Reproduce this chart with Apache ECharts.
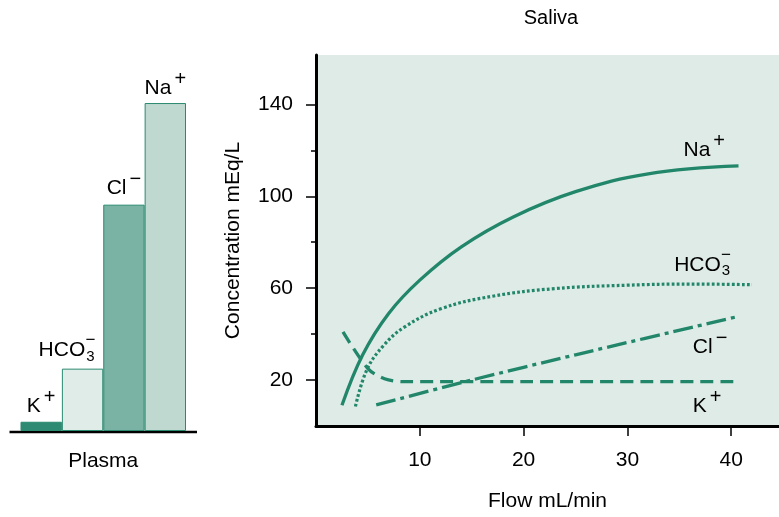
<!DOCTYPE html>
<html>
<head>
<meta charset="utf-8">
<title>Saliva</title>
<script src="https://cdn.jsdelivr.net/npm/echarts@6/dist/echarts.min.js"></script>
<style>
html, body {margin: 0; padding: 0; background: #ffffff;}
#chartBox {width: 779px; height: 517px;}
</style>
</head>
<body>
<div id="chartBox"></div>
<script>
// plasma bars (mEq/L)
let plasmaIons = ['K', 'HCO3', 'Cl', 'Na'];
let plasmaValues = [4, 27, 98, 142];

// saliva curves, [flow mL/min, concentration mEq/L]
let naCurve = [[2.5, 9], [4.5, 31], [7, 49], [10, 63.5], [14, 78], [19, 91], [25, 102],
    [32, 109.8], [40.7, 113.2]];
let hco3Curve = [[3.8, 8.5], [4.9, 24.5], [6.5, 35], [8.5, 43], [12, 51], [17, 56.5], [23, 59.8],
    [30, 61.3], [36, 61.8], [42, 61.5]];
let clCurve = [[5.8, 9.2], [15, 20], [25, 31], [40.5, 47.5]];
let kCurve = [[2.6, 41], [5.0, 25], [6.6, 20.6], [8.5, 19.3], [20, 19.3], [40.7, 19.3]];

// tick labels
let yMajorTicks = [20, 60, 100, 140];
let yMinorTicks = [40, 80, 120];
let xTicks = [10, 20, 30, 40];

const FONT = '"Liberation Sans", Arial, Helvetica, sans-serif';
const TEAL = '#22876a';
const INK = '#000000';
const Y_MAX = 161.5;

let plasmaColors = ['#2f8a73', '#e0ece7', '#7ab2a4', '#bfd9d1'];
// label text pieces, plus a small nudge for each bar label
let plasmaLabels = [
    {name: 'K', sup: '+', shift: 0, rise: 8},
    {name: 'HCO', sub: '3', sup: '\u2212', shift: -16, rise: 11},
    {name: 'Cl', sup: '\u2212', shift: 0, rise: 9},
    {name: 'Na', sup: '+', shift: 0, rise: 7.5}
];
// curve labels: left/baseline position in flow/conc units
let salivaLabels = [
    {name: 'Na', sup: '+', at: [35.4, 116.9]},
    {name: 'HCO', sub: '3', sup: '\u2212', at: [34.5, 67.0]},
    {name: 'Cl', sup: '\u2212', at: [36.3, 31.2]},
    {name: 'K', sup: '+', at: [36.3, 5.6]}
];

let measureCtx = document.createElement('canvas').getContext('2d');
function textWidth(t, size) {
    measureCtx.font = size + 'px ' + FONT;
    return measureCtx.measureText(t).width;
}
function txt(x, base, t, size, align) {
    return {
        type: 'text', x: x, y: base - size * 0.35, silent: true,
        style: {
            text: t, font: size + 'px ' + FONT, fill: INK,
            textAlign: align || 'left', align: align || 'left',
            textVerticalAlign: 'middle', verticalAlign: 'middle'
        }
    };
}
function labelWidth(lb) {
    let w = textWidth(lb.name, 21);
    if (lb.sub) {
        w += 1 + textWidth(lb.sub, 15);
    } else if (lb.sup) {
        w += 3 + textWidth(lb.sup, 20);
    }
    return w;
}
function ionText(left, base, lb) {
    let els = [txt(left, base, lb.name, 21)];
    let x = left + textWidth(lb.name, 21);
    if (lb.sub) {
        els.push(txt(x + 1, base + 4.5, lb.sub, 15));
        let subW = textWidth(lb.sub, 15);
        els.push(txt(x + 1 + subW / 2, base - 11, lb.sup, 17, 'center'));
    } else if (lb.sup) {
        els.push(txt(x + 3, base - 9, lb.sup, 20));
    }
    return els;
}

let chartBox = echarts.init(document.getElementById('chartBox'));
let tickLine = {color: INK, width: 1.5};
let chartBoxOption = {
    animation: false,
    grid: [
        {left: 20.5, width: 165.5, top: 58, bottom: 86},
        {left: 316, right: 0, top: 55, bottom: 89, show: true, backgroundColor: '#dfebe6', borderWidth: 0}
    ],
    xAxis: [
        {
            gridIndex: 0, type: 'category', data: plasmaIons,
            axisLine: {show: false}, axisTick: {show: false}, axisLabel: {show: false},
            name: 'Plasma', nameLocation: 'middle', nameGap: 20,
            nameTextStyle: {color: INK, fontSize: 21, fontFamily: FONT}
        },
        {
            gridIndex: 1, type: 'value', min: 0, max: 44.6,
            axisLine: {show: true, onZero: false, lineStyle: {color: INK, width: 3}},
            axisTick: {show: true, length: 10, customValues: xTicks, lineStyle: tickLine},
            axisLabel: {customValues: xTicks, color: INK, fontSize: 21, fontFamily: FONT, margin: 24},
            splitLine: {show: false},
            name: 'Flow mL/min', nameLocation: 'middle', nameGap: 65,
            nameTextStyle: {color: INK, fontSize: 21, fontFamily: FONT}
        }
    ],
    yAxis: [
        {gridIndex: 0, type: 'value', min: 0, max: Y_MAX, show: false},
        {
            gridIndex: 1, type: 'value', min: 0, max: Y_MAX, position: 'left',
            axisLine: {show: true, onZero: false, lineStyle: {color: INK, width: 3}},
            axisTick: {show: true, length: 10, customValues: yMajorTicks, lineStyle: tickLine},
            axisLabel: {customValues: yMajorTicks, color: INK, fontSize: 21, fontFamily: FONT, margin: 23},
            splitLine: {show: false},
            name: 'Concentration mEq/L', nameLocation: 'middle', nameGap: 72,
            nameTextStyle: {color: INK, fontSize: 21, fontFamily: FONT}
        },
        {
            gridIndex: 1, type: 'value', min: 0, max: Y_MAX, position: 'left',
            axisLine: {show: false},
            axisTick: {show: true, length: 5, customValues: yMinorTicks, lineStyle: tickLine},
            axisLabel: {show: false}, splitLine: {show: false}
        }
    ],
    series: [
        {
            type: 'bar', xAxisIndex: 0, yAxisIndex: 0,
            barWidth: '100%', barCategoryGap: '0%',
            itemStyle: {borderColor: '#2a8a6f', borderWidth: 1},
            data: plasmaValues.map(function (v, i) {
                return {value: v, itemStyle: {color: plasmaColors[i]}};
            })
        },
        {
            type: 'line', name: 'Na', xAxisIndex: 1, yAxisIndex: 1, data: naCurve,
            showSymbol: false, smooth: 0.4,
            lineStyle: {color: TEAL, width: 3.3}
        },
        {
            type: 'line', name: 'HCO3', xAxisIndex: 1, yAxisIndex: 1, data: hco3Curve,
            showSymbol: false, smooth: 0.4,
            lineStyle: {color: TEAL, width: 3.2, type: [2.8, 2.2], cap: 'butt'}
        },
        {
            type: 'line', name: 'Cl', xAxisIndex: 1, yAxisIndex: 1, data: clCurve,
            showSymbol: false, smooth: 0.3,
            lineStyle: {color: TEAL, width: 3.3, type: [20, 5, 4, 5], cap: 'butt'}
        },
        {
            type: 'line', name: 'K', xAxisIndex: 1, yAxisIndex: 1, data: kCurve,
            showSymbol: false, smooth: 0.3,
            lineStyle: {color: TEAL, width: 3.3, type: [13, 7], cap: 'butt'}
        }
    ]
};
chartBox.setOption(chartBoxOption, true);

// labels and the plasma base line, placed from the axes
let elements = [];
let first = chartBox.convertToPixel({xAxisIndex: 0, yAxisIndex: 0}, [0, 0]);
let last = chartBox.convertToPixel({xAxisIndex: 0, yAxisIndex: 0}, [plasmaIons.length - 1, 0]);
let band = (last[0] - first[0]) / (plasmaIons.length - 1);
elements.push({
    type: 'line', silent: true,
    shape: {x1: first[0] - band / 2 - 11, y1: first[1] + 1, x2: last[0] + band / 2 + 11, y2: first[1] + 1},
    style: {stroke: INK, lineWidth: 2.5}
});
plasmaLabels.forEach(function (lb, i) {
    let top = chartBox.convertToPixel({xAxisIndex: 0, yAxisIndex: 0}, [i, plasmaValues[i]]);
    let left = top[0] - labelWidth(lb) / 2 + lb.shift;
    elements = elements.concat(ionText(left, top[1] - lb.rise, lb));
});
salivaLabels.forEach(function (lb) {
    let p = chartBox.convertToPixel({xAxisIndex: 1, yAxisIndex: 1}, lb.at);
    elements = elements.concat(ionText(p[0], p[1], lb));
});
elements.push(txt(551, 25, 'Saliva', 20, 'center'));
chartBox.setOption({graphic: {elements: elements}});
</script>
</body>
</html>
